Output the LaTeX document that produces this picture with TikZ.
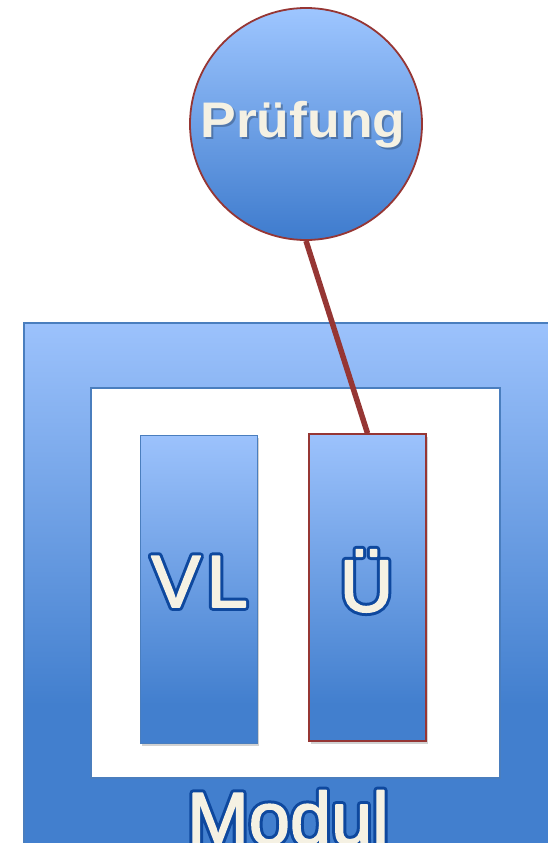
\documentclass[tikz,border=0pt]{standalone}
\usepackage{fontspec}
\setmainfont{Liberation Sans}
\usetikzlibrary{shadows}
\definecolor{btop}{RGB}{156,194,252}
\definecolor{bbot}{RGB}{66,127,206}
\definecolor{ctop}{RGB}{158,198,255}
\definecolor{cbot}{RGB}{62,123,205}
\definecolor{bline}{RGB}{74,126,190}
\definecolor{redline}{RGB}{150,54,52}
\definecolor{cream}{RGB}{245,241,227}
\definecolor{navy}{RGB}{14,72,158}
\newcommand{\strokedtext}[2]{\special{pdf:literal direct #1 w 1 j 1 J #2 Tr}}
\newcommand{\plaintext}{\special{pdf:literal direct 0 Tr 1 w}}
\newcommand{\olabel}[1]{\strokedtext{7.6}{1}#1\plaintext}
\newcommand{\flabel}[1]{\strokedtext{1.6}{2}#1\plaintext}
\tikzset{
  gradfill/.style={path picture={
    \fill[bbot] (path picture bounding box.south west) rectangle ([yshift=#1]path picture bounding box.south east);
    \shade[top color=btop, bottom color=bbot] (path picture bounding box.north west) rectangle ([yshift=#1]path picture bounding box.south east);
  }},
  box/.style={rectangle, inner sep=0pt, line width=1pt},
  colbox/.style={box, drop shadow={opacity=0.35, shadow xshift=1.5pt, shadow yshift=-3pt}},
  outline/.style={text=navy, inner sep=0pt, font=\fontsize{74}{74}\selectfont},
  filltext/.style={text=cream, inner sep=0pt, font=\fontsize{74}{74}\selectfont},
}
\begin{document}
\begin{tikzpicture}[x=1pt,y=-1pt]
\useasboundingbox (0,0) rectangle (548,843);
\fill[white] (0,0) rectangle (548,843);
% frame
\node[box, draw=bline, line width=1.5pt, gradfill=166pt, minimum width=548pt, minimum height=548pt] (modul) at (298,597) {};
\node[box, draw=bline, line width=1.5pt, fill=white, minimum width=409pt, minimum height=390pt] (inner) at (295.5,583) {};
% columns
\node[colbox, draw=bline, gradfill=39pt, minimum width=117pt, minimum height=308pt] (vl) at (198.5,589) {};
\node[colbox, draw=redline, line width=1.5pt, gradfill=37pt, minimum width=117pt, minimum height=307pt] (ue) at (367.5,587.5) {};
% exam circle
\node[circle, draw=redline, line width=1.8pt, top color=ctop, bottom color=cbot, minimum size=232pt, inner sep=0pt] (pruef) at (306,124) {};
\draw[redline, line width=5.5pt] (pruef.south) -- (ue.north);
% labels
\node[anchor=base, text=black, opacity=0.25, font=\fontsize{50}{50}\selectfont\bfseries] (pshadow) at (305,139) {\scalebox{1.07}[1]{Prüfung}};
\node[anchor=base, text=cream, font=\fontsize{50}{50}\selectfont\bfseries] (ptext) at (303,137) {\scalebox{1.07}[1]{Prüfung}};
\node[outline, anchor=base west] (vlline) at (151,607) {\olabel{V\kern6pt L}};
\node[filltext, anchor=base west] (vltext) at (151,607) {\flabel{V\kern6pt L}};
\node[outline, anchor=base] (ueline) at (366.5,611.5) {\olabel{Ü}};
\node[filltext, anchor=base] (uetext) at (366.5,611.5) {\flabel{Ü}};
\node[outline, anchor=base west] (modline) at (187,844) {\olabel{Modul}};
\node[filltext, anchor=base west] (modtext) at (187,844) {\flabel{Modul}};
\end{tikzpicture}
\end{document}
